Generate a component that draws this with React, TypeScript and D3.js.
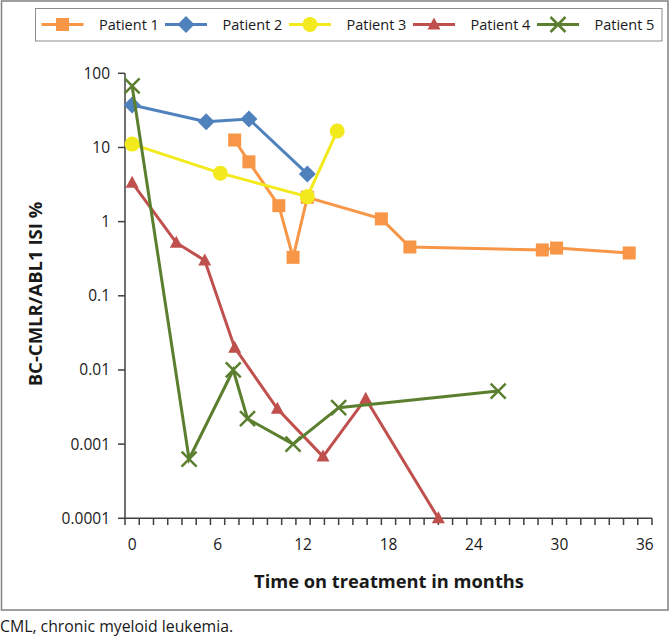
import React from "react";
import * as d3 from "d3";

const seriesNames = ["Patient 1", "Patient 2", "Patient 3", "Patient 4", "Patient 5"];
const seriesColors = ["#F79646", "#4F81BD", "#F2EA1C", "#C0504D", "#5B7F2F"];
const seriesShapes = ["square", "diamond", "circle", "triangle", "x"];

const p1Months = [7.2, 8.2, 10.3, 11.3, 12.3, 17.5, 19.5, 28.8, 29.8, 34.9];
const p1Values = [12.6, 6.4, 1.64, 0.33, 2.13, 1.09, 0.455, 0.415, 0.44, 0.378];
const p2Months = [0, 5.2, 8.2, 12.3];
const p2Values = [37.4, 22.3, 24.2, 4.4];
const p3Months = [0, 6.2, 12.3, 14.4];
const p3Values = [11.1, 4.5, 2.17, 16.7];
const p4Months = [0, 3.1, 5.1, 7.2, 10.2, 13.4, 16.4, 21.5];
const p4Values = [3.35, 0.52, 0.3, 0.02, 0.003, 0.00068, 0.0041, 0.0001];
const p5Months = [0, 4.0, 7.1, 8.1, 11.3, 14.5, 25.7];
const p5Values = [67.5, 0.00063, 0.01, 0.0022, 0.001, 0.0031, 0.0052];

const xTickLabels = [0, 6, 12, 18, 24, 30, 36];
const yTickValues = [100, 10, 1, 0.1, 0.01, 0.001, 0.0001];
const yTickLabels = ["100", "10", "1", "0.1", "0.01", "0.001", "0.0001"];

const xTitle = "Time on treatment in months";
const yTitle = "BC-CMLR/ABL1 ISI %";
const caption = "CML, chronic myeloid leukemia.";

const allMonths = [p1Months, p2Months, p3Months, p4Months, p5Months];
const allValues = [p1Values, p2Values, p3Values, p4Values, p5Values];

const FONT = "'Open Sans', sans-serif";

function Marker({ shape, x, y, color }: { shape: string; x: number; y: number; color: string }) {
  if (shape === "square") {
    return <rect x={x - 6.5} y={y - 6.5} width={13} height={13} fill={color} />;
  }
  if (shape === "diamond") {
    const r = 8.5;
    return <path d={`M${x},${y - r}L${x + r},${y}L${x},${y + r}L${x - r},${y}Z`} fill={color} />;
  }
  if (shape === "circle") {
    return <circle cx={x} cy={y} r={7.5} fill={color} />;
  }
  if (shape === "triangle") {
    return <path d={`M${x},${y - 7}L${x + 6.5},${y + 5}L${x - 6.5},${y + 5}Z`} fill={color} />;
  }
  const r = 7.5;
  return (
    <path
      d={`M${x - r},${y - r}L${x + r},${y + r}M${x - r},${y + r}L${x + r},${y - r}`}
      stroke={color}
      strokeWidth={2.5}
      fill="none"
    />
  );
}

export default function App() {
  const width = 670;
  const height = 640;
  const x = d3.scaleLinear().domain([-0.5, 36.5]).range([125, 652]);
  const y = d3.scaleLog().domain([0.0001, 100]).range([518.3, 73.3]);
  const minorTicks = d3.range(-0.5, 36.51, 1);

  const line = d3
    .line<[number, number]>()
    .x((d) => x(d[0]))
    .y((d) => y(d[1]));

  const legendX = [41.5, 165, 289, 413, 537];

  return (
    <svg
      width={width}
      height={height}
      style={{ position: "absolute", left: 0, top: 0, background: "#fff" }}
      fontFamily={FONT}
    >
      <rect x={0} y={0} width={width} height={height} fill="#fff" />
      <rect x={1.5} y={1} width={666.5} height={609} fill="none" stroke="#808080" strokeWidth={1.5} />

      {/* legend */}
      <rect x={35.5} y={8.5} width={626.5} height={32.5} fill="#fff" stroke="#8c8c8c" strokeWidth={1} />
      {seriesNames.map((name, i) => (
        <g key={name}>
          <line x1={legendX[i]} x2={legendX[i] + 42} y1={24.5} y2={24.5} stroke={seriesColors[i]} strokeWidth={3} />
          <Marker shape={seriesShapes[i]} x={legendX[i] + 21} y={24.5} color={seriesColors[i]} />
          <text x={legendX[i] + 57.5} y={29.5} fontSize={14.5} fill="#1a1a1a">
            {name}
          </text>
        </g>
      ))}

      {/* axes */}
      <line x1={125} x2={125} y1={73.3} y2={518.3} stroke="#404040" strokeWidth={1.5} />
      <line x1={125} x2={652} y1={518.3} y2={518.3} stroke="#404040" strokeWidth={1.5} />
      {yTickValues.map((v, i) => (
        <g key={v}>
          <line x1={118} x2={125} y1={y(v)} y2={y(v)} stroke="#404040" strokeWidth={1.5} />
          <text x={110} y={y(v) + 5.5} textAnchor="end" fontSize={15.5} fill="#1a1a1a">
            {yTickLabels[i]}
          </text>
        </g>
      ))}
      {minorTicks.map((m) => (
        <line key={m} x1={x(m)} x2={x(m)} y1={518.3} y2={525} stroke="#404040" strokeWidth={1.5} />
      ))}
      {xTickLabels.map((m) => (
        <text key={m} x={x(m)} y={549.5} textAnchor="middle" fontSize={15.5} fill="#1a1a1a">
          {m}
        </text>
      ))}

      <text x={389} y={588} textAnchor="middle" fontSize={18.3} fontWeight="bold" fill="#1a1a1a">
        {xTitle}
      </text>
      <text
        transform="translate(41.5,294) rotate(-90)"
        textAnchor="middle"
        fontSize={18.5}
        fontWeight="bold"
        fill="#1a1a1a"
      >
        {yTitle}
      </text>

      {/* series */}
      {allMonths.map((months, i) => {
        const pts = months.map((m, j) => [m, allValues[i][j]] as [number, number]);
        return (
          <g key={i}>
            <path d={line(pts) || ""} fill="none" stroke={seriesColors[i]} strokeWidth={3} />
            {pts.map((p, j) => (
              <Marker key={j} shape={seriesShapes[i]} x={x(p[0])} y={y(p[1])} color={seriesColors[i]} />
            ))}
          </g>
        );
      })}

      <text x={0} y={632} fontSize={15.8} fill="#1a1a1a">
        {caption}
      </text>
    </svg>
  );
}
